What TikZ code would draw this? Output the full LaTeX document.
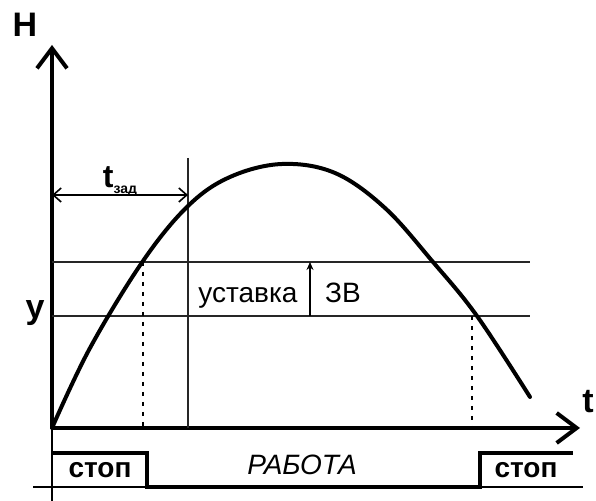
\documentclass[tikz,border=0pt]{standalone}
\usepackage{fontspec}
\setmainfont{Liberation Sans}
\usetikzlibrary{arrows.meta}
\begin{document}
\begin{tikzpicture}[x=0.5pt,y=-0.5pt,
  axisline/.style={line width=2pt,-{Straight Barb[length=10pt,width=15pt,line width=2pt]}},
  thinline/.style={line width=0.9pt,draw=black!85},
  dotline/.style={line width=1pt,dash pattern=on 2pt off 3pt},
  curveline/.style={line width=2pt,line join=round,line cap=round},
  wave/.style={line width=1.8pt},
  lbl/.style={font=\fontsize{14}{16}\selectfont,inner sep=0pt,anchor=base},
  blbl/.style={font=\fontsize{14}{16}\selectfont\bfseries,inner sep=0pt,anchor=base},
  big/.style={font=\fontsize{17}{19}\selectfont\bfseries,inner sep=0pt}]
\useasboundingbox (0,0) rectangle (596,501);
% coordinates
\coordinate (O) at (52,428);
\coordinate (Ytop) at (52,45);
\coordinate (Ybot) at (52,501);
\coordinate (Xend) at (580,428);
\coordinate (L1a) at (52,262); \coordinate (L1b) at (530,262);
\coordinate (L2a) at (52,316); \coordinate (L2b) at (530,316);
\coordinate (Va) at (188,158); \coordinate (Vb) at (188,428);
\coordinate (Ta) at (52,195); \coordinate (Tb) at (188,195);
\coordinate (Da) at (143,262); \coordinate (Db) at (143,428);
\coordinate (Ea) at (472,316); \coordinate (Eb) at (472,428);
\coordinate (Za) at (310,316); \coordinate (Zb) at (310,262);
\coordinate (Ba) at (33,487); \coordinate (Bb) at (583,487);
% axes
\draw[line width=0.9pt] (O) -- (Ybot);
\draw[axisline] (O) -- (Ytop);
\draw[axisline] (O) -- (Xend);
% horizontal levels
\draw[thinline] (L1a) -- (L1b);
\draw[thinline] (L2a) -- (L2b);
% vertical line
\draw[thinline] (Va) -- (Vb);
% t_zad arrow
\draw[line width=0.8pt,{Straight Barb[length=4pt,width=7pt]}-{Straight Barb[length=4pt,width=7pt]}] (Ta) -- (Tb);
% dotted lines
\draw[dotline] (Da) -- (Db);
\draw[dotline] (Ea) -- (Eb);
% setpoint arrow
\draw[line width=0.8pt,-{Stealth[length=4pt,width=3.5pt]}] (Za) -- (Zb);
% curve
\draw[curveline] plot[smooth,tension=0.6] coordinates {(52,428) (90,348) (143,261) (188,206) (230,177) (282,164) (335,173) (385,208) (433,262) (477,316) (530,397)};
% bottom timing line
\draw[line width=0.9pt] (Ba) -- (Bb);
\draw[wave] (52,453) -- (147,453) -- (147,487) -- (480,487) -- (480,453) -- (573,453);
% labels
\node[big] (H) at (25,25) {H};
\node[big] (tl) at (588,402) {t};
\node[big] (yl) at (35,313) {у};
\node[inner sep=0pt] (tz) at (120,181) {\fontsize{16}{17}\selectfont\bfseries t\raisebox{-3pt}{\fontsize{7}{8}\selectfont зад}};
\node[lbl] (ust) at (248,303) {уставка};
\node[lbl] (zv) at (343,303) {ЗВ};
\node[blbl] (s1) at (100,478) {стоп};
\node[blbl] (s2) at (526,478) {стоп};
\node[lbl,font=\fontsize{14}{16}\selectfont\itshape] (rab) at (302,475) {РАБОТА};
\end{tikzpicture}
\end{document}
